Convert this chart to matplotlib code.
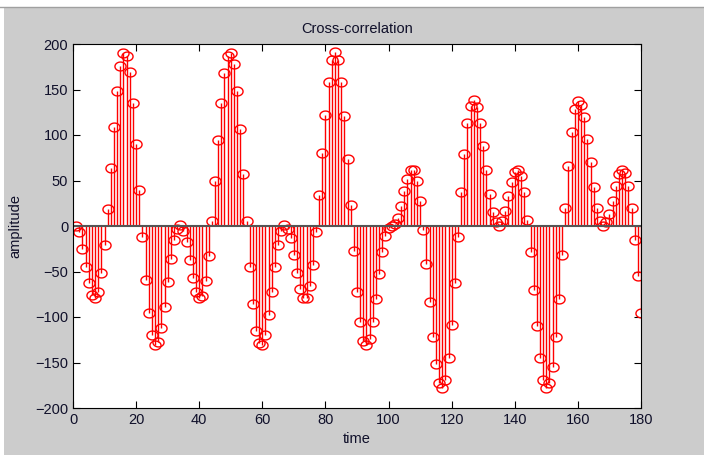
import numpy as np
import matplotlib
matplotlib.use("Agg")
import matplotlib.pyplot as plt
from matplotlib.patches import Rectangle
from matplotlib.path import Path

plt.rcParams["font.family"] = ["Liberation Sans", "DejaVu Sans"]

# cross-correlation samples, lag index 1..180
lags = np.arange(1, 181)
amps = [
    0, -7, -25, -45, -63, -76, -79, -72, -52, -21,
    19, 64, 109, 148, 176, 190, 187, 169, 135, 90,
    40, -12, -59, -96, -120, -131, -127, -112, -89, -62,
    -36, -15, -3, 1, -5, -18, -37, -57, -72, -79,
    -77, -60, -33, 5, 49, 94, 135, 168, 187, 190,
    178, 148, 107, 57, 5, -45, -86, -115, -129, -131,
    -120, -98, -72, -45, -21, -5, 1, -3, -13, -32,
    -52, -69, -79, -79, -66, -43, -7, 34, 80, 122,
    158, 182, 191, 182, 158, 121, 74, 23, -28, -72,
    -106, -126, -131, -124, -106, -80, -53, -29, -11, -2,
    0, 2, 9, 22, 38, 52, 62, 62, 50, 28,
    -4, -42, -84, -122, -152, -172, -178, -169, -145, -109,
    -63, -12, 37, 79, 113, 132, 138, 131, 113, 88,
    61, 35, 15, 4, 0, 5, 17, 33, 48, 59,
    62, 55, 37, 7, -29, -70, -110, -145, -169, -178,
    -173, -155, -122, -80, -32, 20, 66, 103, 129, 137,
    133, 120, 96, 70, 43, 20, 6, 0, 4, 13,
    28, 44, 57, 62, 58, 44, 20, -15, -55, -96,
]
xticks = np.arange(0, 181, 20)
yticks = np.arange(-200, 201, 50)

GRAY = "#cccccc"
TXT = "#10102a"

# the screenshot stretches MATLAB's circles a little sideways
t = np.linspace(0, 2 * np.pi, 41)
ellipse = Path(np.column_stack([1.25 * np.cos(t), np.sin(t)]), closed=True)

fig = plt.figure(figsize=(7.04, 4.55), dpi=100, facecolor="white")
fig.patches.append(Rectangle((4 / 704, 0), 1, 448 / 455, transform=fig.transFigure,
                             facecolor=GRAY, edgecolor="none", zorder=-2))
fig.add_artist(plt.Line2D([0, 1], [448 / 455, 448 / 455], transform=fig.transFigure,
                          color="#a0a0a0", lw=1))

ax = fig.add_axes([73 / 704, 47 / 455, 568 / 704, 364 / 455])
ax.set_facecolor("white")

ml, sl, bl = ax.stem(lags, amps, linefmt="r-", markerfmt="ro", basefmt="-")
plt.setp(sl, linewidth=1.0, color="red")
plt.setp(ml, marker=ellipse, markersize=8, markerfacecolor="none",
         markeredgecolor="red", markeredgewidth=1.0)
plt.setp(bl, color="#555555", linewidth=1.5)
bl.set_xdata([0, 180])

ax.set_xlim(0, 180)
ax.set_ylim(-200, 200)
ax.set_xticks(xticks)
ax.set_yticks(yticks)
ax.tick_params(direction="in", length=5, top=True, right=True, labelsize=10.5,
               colors="black", labelcolor=TXT, width=0.8)
for s in ax.spines.values():
    s.set_color("black")
    s.set_linewidth(0.8)

ax.set_title("Cross-correlation", fontsize=10.5, color=TXT, pad=8)
ax.set_xlabel("time", fontsize=10.5, color=TXT, labelpad=4)
ax.set_ylabel("amplitude", fontsize=10.5, color=TXT, labelpad=9)

fig.savefig("out.png", dpi=100, facecolor=fig.get_facecolor())
